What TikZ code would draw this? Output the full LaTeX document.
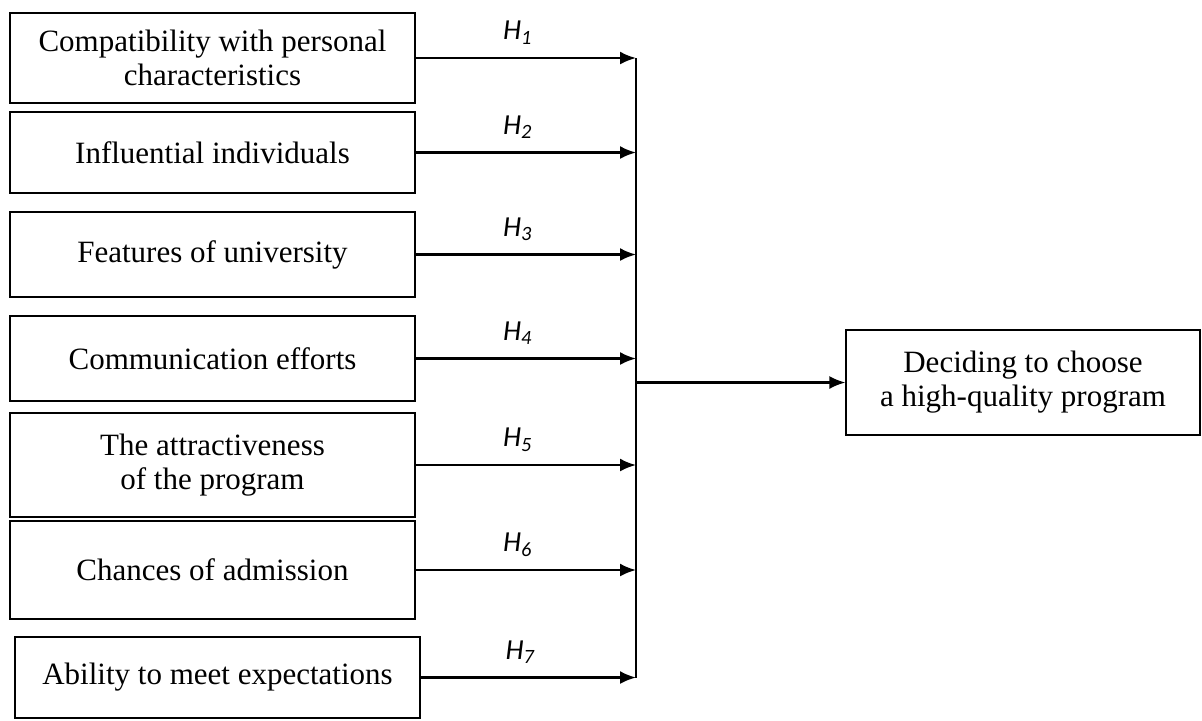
\documentclass[tikz,border=0pt]{standalone}
\usepackage{fontspec}
\setmainfont{Liberation Serif}
\newfontfamily\hypfont{Carlito}
\usetikzlibrary{arrows.meta}
\tikzset{
    factor/.style={draw,line width=0.6pt,minimum width=202.5pt,align=center,font=\fontsize{15.5}{17}\selectfont},
    link/.style={line width=1.1pt,-{Latex[length=8pt,width=6.5pt]}},
    hyp/.style={font=\hypfont\fontsize{14.5}{16}\selectfont\itshape}
}
\begin{document}
\begin{tikzpicture}[x=0.5pt,y=-0.5pt]
                \useasboundingbox (0,0) rectangle (1202,720);
                \node[factor,minimum height=45pt] (comp) at (212.5,58) {Compatibility with personal\\characteristics};
                \node[factor,minimum height=40.5pt] (infl) at (212.5,152.5) {Influential individuals};
                \node[factor,minimum height=42.5pt] (feat) at (212.5,254.5) {Features of university};
                \node[factor,minimum height=42.5pt] (comm) at (212.5,358.5) {Communication efforts};
                \node[factor,minimum height=52pt] (attr) at (212.5,465) {The attractiveness\\of the program};
                \node[factor,minimum height=49pt] (chance) at (212.5,570) {Chances of admission};
                \node[factor,minimum height=40.5pt] (abil) at (217.5,677.5) {Ability to meet expectations};
                \node[factor,minimum width=177pt,minimum height=52.5pt] (decide) at (1023,382.5) {Deciding to choose\\a high-quality program};
                \coordinate (bustop) at (636,58);
                \coordinate (busbot) at (636,677.5);
                \coordinate (busmid) at (636,382.5);
                \draw[line width=0.7pt] (bustop) -- (busbot);
                \draw[link] (comp.east) -- (comp.east -| bustop) node[hyp,midway,above=3pt,xshift=-4pt] {H\textsubscript{1}};
                \draw[link] (infl.east) -- (infl.east -| bustop) node[hyp,midway,above=3pt,xshift=-4pt] {H\textsubscript{2}};
                \draw[link] (feat.east) -- (feat.east -| bustop) node[hyp,midway,above=3pt,xshift=-4pt] {H\textsubscript{3}};
                \draw[link] (comm.east) -- (comm.east -| bustop) node[hyp,midway,above=3pt,xshift=-4pt] {H\textsubscript{4}};
                \draw[link] (attr.east) -- (attr.east -| bustop) node[hyp,midway,above=3pt,xshift=-4pt] {H\textsubscript{5}};
                \draw[link] (chance.east) -- (chance.east -| bustop) node[hyp,midway,above=3pt,xshift=-4pt] {H\textsubscript{6}};
                \draw[link] (abil.east) -- (abil.east -| bustop) node[hyp,midway,above=3pt,xshift=-4pt] {H\textsubscript{7}};
                \draw[link] (busmid) -- (decide.west);
            \end{tikzpicture}
\end{document}
